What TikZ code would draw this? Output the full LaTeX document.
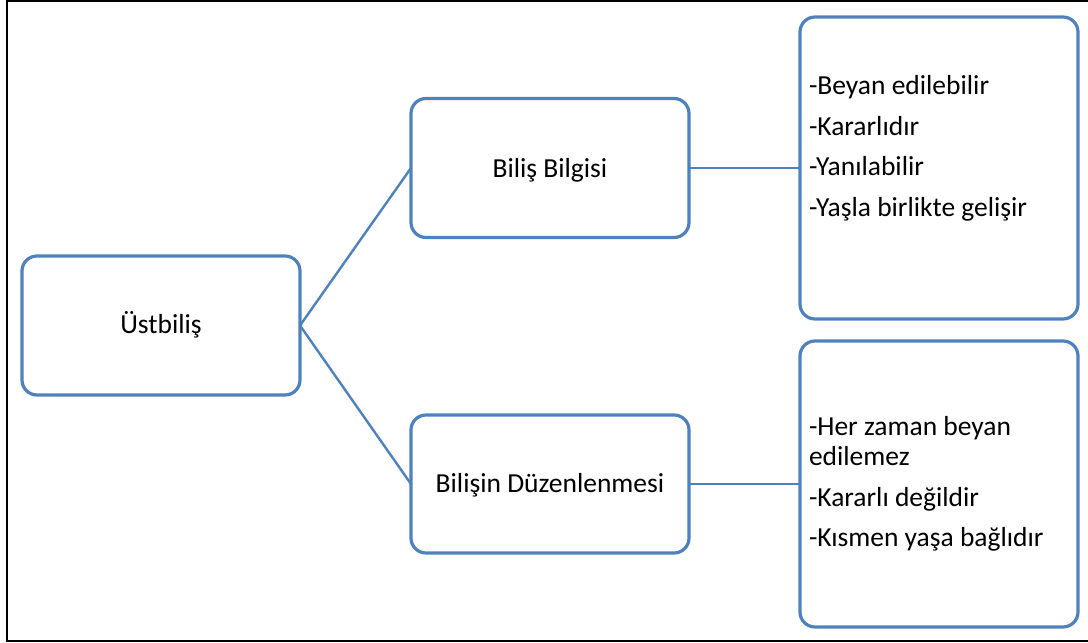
\documentclass[tikz,border=0pt]{standalone}
\usepackage{fontspec}
\setmainfont{Carlito}
\definecolor{officeblue}{RGB}{79,129,189}
\tikzset{
  boxnode/.style={draw=officeblue, line width=3.2pt, rounded corners=15pt, inner sep=0pt, outer sep=0pt, fill=white},
  conn/.style={draw=officeblue, line width=2.4pt},
  txt/.style={inner sep=0pt, outer sep=0pt, font=\fontsize{27.5}{32}\selectfont, text=black},
}
\begin{document}
\begin{tikzpicture}[x=1pt, y=-1pt]
\useasboundingbox (0,0) rectangle (1088,643);
\draw[line width=2pt, black] (1088,1) -- (7,1) -- (7,641) -- (1088,641);

\node[boxnode, minimum width=278pt, minimum height=139pt] (ust) at (161,325.5) {};
\node[boxnode, minimum width=278pt, minimum height=139pt] (bb) at (550,168) {};
\node[boxnode, minimum width=278pt, minimum height=138pt] (bd) at (550,484) {};
\node[boxnode, minimum width=278pt, minimum height=302pt] (r1) at (939,168) {};
\node[boxnode, minimum width=278pt, minimum height=286pt] (r2) at (939,484) {};

\draw[conn] (ust.east) -- (bb.west);
\draw[conn] (ust.east) -- (bd.west);
\draw[conn] (bb.east) -- (r1.west);
\draw[conn] (bd.east) -- (r2.west);

\node[txt, anchor=base] (tust) at (161,333) {Üstbiliş};
\node[txt, anchor=base] (tbb) at (550,177) {Biliş Bilgisi};
\node[txt, anchor=base] (tbd) at (550,492) {Bilişin Düzenlenmesi};

\node[txt, anchor=base west] (a1) at (809,94) {-Beyan edilebilir};
\node[txt, anchor=base west] (a2) at (809,135) {-Kararlıdır};
\node[txt, anchor=base west] (a3) at (809,175.5) {-Yanılabilir};
\node[txt, anchor=base west] (a4) at (809,216) {-Yaşla birlikte gelişir};

\node[txt, anchor=base west] (b1) at (809,435.5) {-Her zaman beyan};
\node[txt, anchor=base west] (b2) at (809,465) {edilemez};
\node[txt, anchor=base west] (b3) at (809,506) {-Kararlı değildir};
\node[txt, anchor=base west] (b4) at (809,546.5) {-Kısmen yaşa bağlıdır};
\end{tikzpicture}
\end{document}
